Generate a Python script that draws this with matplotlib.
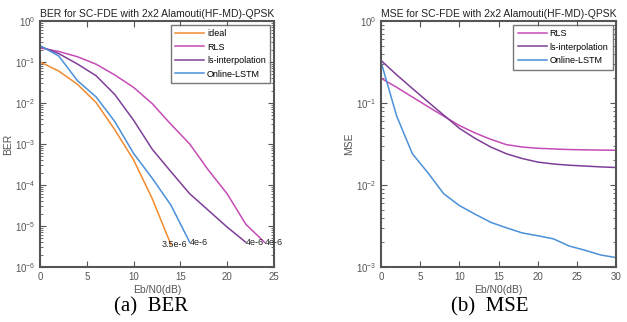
import matplotlib
matplotlib.use("Agg")
import matplotlib.pyplot as plt
from matplotlib.ticker import LogLocator, NullFormatter, FixedLocator

# ---------------- data ----------------
ber_snr_ideal = [0, 2, 4, 6, 8, 10, 12, 14]
ber_ideal = [0.1, 0.06, 0.0285, 0.0102, 0.0022, 4.1e-4, 4.6e-5, 3.5e-6]

ber_snr_rls = [0, 2, 4, 6, 8, 10, 12, 14, 16, 18, 20, 22, 24]
ber_rls = [0.22, 0.18, 0.134, 0.088, 0.048, 0.024, 0.0096, 0.003, 1.0e-3, 2.3e-4, 6.1e-5, 1.1e-5, 4e-6]

ber_snr_ls = [0, 2, 4, 6, 8, 10, 12, 14, 16, 18, 20, 22]
ber_ls = [0.24, 0.16, 0.089, 0.046, 0.016, 0.0038, 7.4e-4, 2.1e-4, 6.1e-5, 2.4e-5, 9.4e-6, 4e-6]

ber_snr_lstm = [0, 2, 4, 6, 8, 10, 12, 14, 16]
ber_lstm = [0.25, 0.14, 0.035, 0.014, 0.0035, 5.9e-4, 1.45e-4, 3.2e-5, 4e-6]

ber_labels = [(13, 3.5e-6, "3.5e-6"), (16, 4e-6, "4e-6"), (22, 4e-6, "4e-6"), (24, 4e-6, "4e-6")]

mse_snr = [0, 2, 4, 6, 8, 10, 12, 14, 16, 18, 20, 22, 24, 26, 28, 30]
mse_rls = [0.2, 0.155, 0.118, 0.09, 0.069, 0.053, 0.043, 0.036, 0.031, 0.029, 0.028,
           0.0275, 0.027, 0.0268, 0.0266, 0.0265]
mse_ls = [0.33, 0.22, 0.15, 0.103, 0.071, 0.049, 0.037, 0.029, 0.024, 0.021, 0.019,
          0.018, 0.0174, 0.017, 0.0166, 0.0163]
mse_lstm = [0.316, 0.069, 0.024, 0.014, 0.0078, 0.0056, 0.0044, 0.0035, 0.0030, 0.0026,
            0.0024, 0.0022, 0.0018, 0.0016, 0.0014, 0.0013]

c_ideal = "#F28A2E"
c_rls = "#C54BB5"
c_ls = "#7E3F98"
c_lstm = "#4A90D9"

plt.rcParams['font.family'] = ['Liberation Sans Narrow', 'Liberation Sans', 'DejaVu Sans']
plt.rcParams['mathtext.fontset'] = 'custom'
plt.rcParams['mathtext.rm'] = 'Liberation Sans Narrow'
plt.rcParams['mathtext.default'] = 'rm'

grey = "#555555"
fig = plt.figure(figsize=(6.27, 3.22), dpi=100)
ax1 = fig.add_axes([0.0638, 0.171, 0.373, 0.764])
ax2 = fig.add_axes([0.6077, 0.171, 0.375, 0.764])

def style(ax, xmax, xticks, ymin):
    ax.set_yscale('log')
    ax.set_xlim(0, xmax)
    ax.set_ylim(ymin, 1)
    ax.xaxis.set_major_locator(FixedLocator(xticks))
    ax.yaxis.set_major_locator(LogLocator(base=10, numticks=10))
    ax.yaxis.set_minor_locator(LogLocator(base=10, subs=range(2, 10), numticks=20))
    ax.yaxis.set_minor_formatter(NullFormatter())
    ax.tick_params(which='both', direction='in', top=True, right=True, colors=grey,
                   labelsize=7, labelcolor=grey)
    ax.tick_params(which='major', length=4, width=0.8)
    ax.tick_params(which='minor', length=2, width=0.6)
    for s in ax.spines.values():
        s.set_color(grey)
        s.set_linewidth(1.5)
    ax.set_xlabel("Eb/N0(dB)", fontsize=7.5, color=grey, labelpad=2)

lw = 1.1
ax1.plot(ber_snr_ideal, ber_ideal, color=c_ideal, lw=lw, label="ideal")
ax1.plot(ber_snr_rls, ber_rls, color=c_rls, lw=lw, label="RLS")
ax1.plot(ber_snr_ls, ber_ls, color=c_ls, lw=lw, label="ls-interpolation")
ax1.plot(ber_snr_lstm, ber_lstm, color=c_lstm, lw=lw, label="Online-LSTM")
for x, y, t in ber_labels:
    ax1.text(x, y, t, fontsize=6.5, ha='left', va='center', color="#222222")
style(ax1, 25, [0, 5, 10, 15, 20, 25], 1e-6)
ax1.set_ylabel("BER", fontsize=7.5, color=grey, labelpad=1)
ax1.set_title("BER for SC-FDE with 2x2 Alamouti(HF-MD)-QPSK", fontsize=7.5, color="#222222", pad=3)
leg1 = ax1.legend(loc='upper right', fontsize=6.5, handlelength=3.2, frameon=True, fancybox=False,
                  borderpad=0.5, labelspacing=0.5, handletextpad=0.3, borderaxespad=0.4)
leg1.get_frame().set_edgecolor(grey)
leg1.get_frame().set_linewidth(1.0)

ax2.plot(mse_snr, mse_rls, color=c_rls, lw=lw, label="RLS")
ax2.plot(mse_snr, mse_ls, color=c_ls, lw=lw, label="ls-interpolation")
ax2.plot(mse_snr, mse_lstm, color=c_lstm, lw=lw, label="Online-LSTM")
style(ax2, 30, [0, 5, 10, 15, 20, 25, 30], 1e-3)
ax2.set_ylabel("MSE", fontsize=7.5, color=grey, labelpad=1)
ax2.set_title("MSE for SC-FDE with 2x2 Alamouti(HF-MD)-QPSK", fontsize=7.5, color="#222222", pad=3)
leg2 = ax2.legend(loc='upper right', fontsize=6.5, handlelength=3.2, frameon=True, fancybox=False,
                  borderpad=0.5, labelspacing=0.5, handletextpad=0.3, borderaxespad=0.4)
leg2.get_frame().set_edgecolor(grey)
leg2.get_frame().set_linewidth(1.0)

fig.text(151 / 627, 1 - 306.7 / 322, "(a)  BER", fontsize=15, family='Liberation Serif',
         ha='center', va='center', color='black')
fig.text(490 / 627, 1 - 306.7 / 322, "(b)  MSE", fontsize=15, family='Liberation Serif',
         ha='center', va='center', color='black')

fig.savefig("out.png", dpi=100)
